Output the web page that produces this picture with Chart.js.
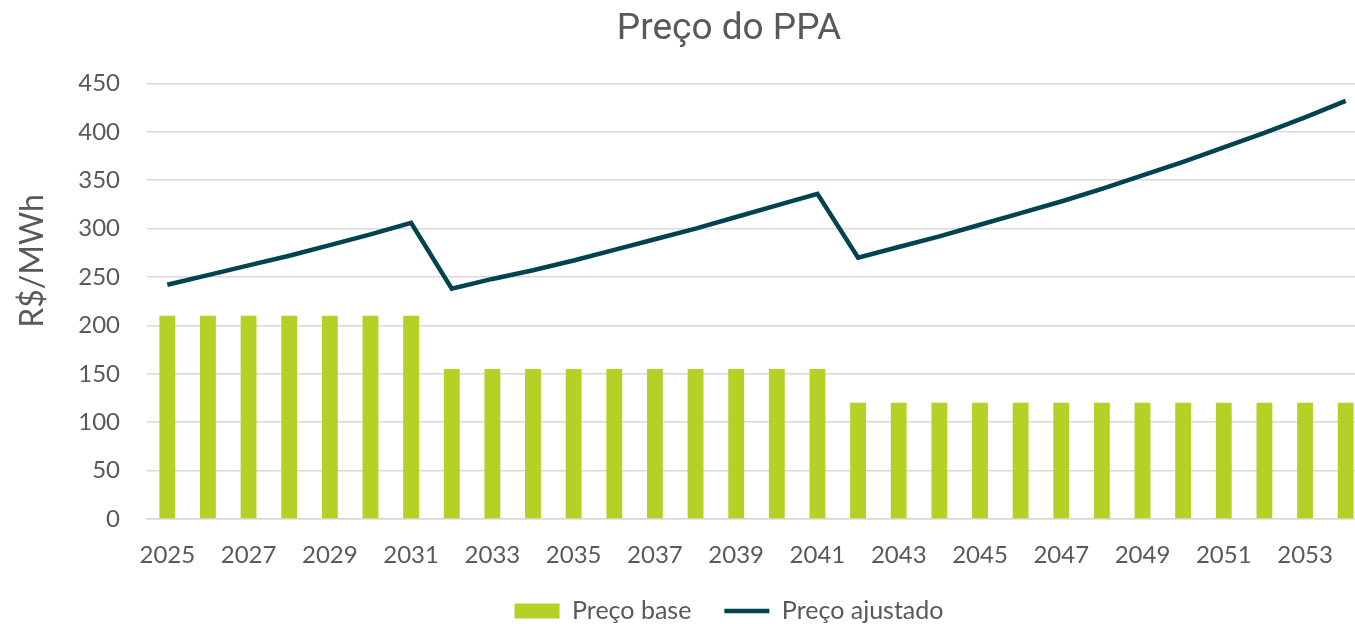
<!DOCTYPE html>
<html lang="pt-BR">
<head>
<meta charset="utf-8">
<title>Preço do PPA</title>
<script src="https://cdn.jsdelivr.net/npm/chart.js@4/dist/chart.umd.min.js"></script>
<style>
    html, body { margin: 0; padding: 0; background: #fff; overflow: hidden; }
    #wrap { width: 1458px; height: 624px; }
</style>
</head>
<body>
<div id="wrap"><canvas id="ppaChart" width="1458" height="624"></canvas></div>
<script>
// Anos do contrato
const anos = [
    '2025', '2026', '2027', '2028', '2029', '2030', '2031', '2032', '2033', '2034',
    '2035', '2036', '2037', '2038', '2039', '2040', '2041', '2042', '2043', '2044',
    '2045', '2046', '2047', '2048', '2049', '2050', '2051', '2052', '2053', '2054'
];

// Preço base (R$/MWh)
const precoBase = [
    210, 210, 210, 210, 210, 210, 210,
    155, 155, 155, 155, 155, 155, 155, 155, 155, 155,
    120, 120, 120, 120, 120, 120, 120, 120, 120, 120, 120, 120, 120
];

// Preço ajustado (R$/MWh)
const precoAjustado = [
    242, 252, 262, 272, 283, 294, 306,
    238, 248, 257, 267, 278, 289, 300, 312, 324, 336,
    270, 281, 292, 304, 316, 328, 341, 355, 369, 384, 399, 415, 432
];

const COR_BASE = '#B5D125';
const COR_AJUSTADO = '#01444F';
const COR_TEXTO = '#595959';
const COR_GRADE = '#D9D9D9';
const FONTE = 'Lato, "Open Sans", sans-serif';

Chart.defaults.font.family = FONTE;
Chart.defaults.color = COR_TEXTO;

// Título do eixo Y desenhado à mão (um pouco acima do centro do eixo)
const tituloEixoY = {
    id: 'tituloEixoY',
    afterDraw(chart) {
        const c = chart.ctx;
        c.save();
        c.translate(33, 261);
        c.rotate(-Math.PI / 2);
        c.font = '32px ' + FONTE;
        c.fillStyle = COR_TEXTO;
        c.textAlign = 'center';
        c.textBaseline = 'middle';
        c.fillText('R$/MWh', 0, 0);
        c.restore();
    }
};

const ctx = document.getElementById('ppaChart');

new Chart(ctx, {
    type: 'bar',
    data: {
        labels: anos,
        datasets: [
            {
                type: 'bar',
                label: 'Preço base',
                data: precoBase,
                backgroundColor: COR_BASE,
                borderWidth: 0,
                barPercentage: 0.39,
                categoryPercentage: 1,
                pointStyle: 'rect',
                order: 2
            },
            {
                type: 'line',
                label: 'Preço ajustado',
                data: precoAjustado,
                borderColor: COR_AJUSTADO,
                backgroundColor: COR_AJUSTADO,
                borderWidth: 4.5,
                pointRadius: 0,
                pointStyle: 'line',
                tension: 0,
                fill: false,
                order: 1
            }
        ]
    },
    plugins: [tituloEixoY],
    options: {
        responsive: false,
        animation: false,
        layout: {
            padding: 0
        },
        plugins: {
            title: {
                display: true,
                text: 'Preço do PPA',
                color: COR_TEXTO,
                font: { family: 'Roboto, sans-serif', size: 37, weight: 'normal' },
                padding: { top: 8, bottom: 31 }
            },
            legend: {
                position: 'bottom',
                maxHeight: 58.5,
                labels: {
                    usePointStyle: true,
                    pointStyleWidth: 45,
                    boxHeight: 15,
                    padding: 33,
                    color: COR_TEXTO,
                    font: { size: 25 },
                    // mesma ordem das séries
                    sort: (a, b) => a.datasetIndex - b.datasetIndex
                }
            },
            tooltip: { enabled: false }
        },
        scales: {
            x: {
                grid: { display: false, drawTicks: false },
                border: { display: true, color: COR_GRADE, width: 1.5 },
                ticks: {
                    autoSkip: false,
                    maxRotation: 0,
                    padding: 21.6,
                    font: { size: 24 },
                    callback: function(value, index) {
                        return index % 2 === 0 ? this.getLabelForValue(value) : '';
                    }
                },
                afterFit: (scale) => { scale.height = 46.5; }
            },
            y: {
                min: 0,
                max: 450,
                grid: { color: COR_GRADE, lineWidth: 1.5, drawTicks: false },
                border: { display: false },
                ticks: {
                    stepSize: 50,
                    padding: 27,
                    font: { size: 24 }
                },
                afterFit: (scale) => { scale.width = 147; }
            },
            // eixo vazio à direita, só reserva espaço
            margem: {
                position: 'right',
                grid: { display: false, drawTicks: false },
                border: { display: false },
                ticks: { display: false },
                afterFit: (scale) => { scale.width = 92; }
            }
        }
    }
});
</script>
</body>
</html>
